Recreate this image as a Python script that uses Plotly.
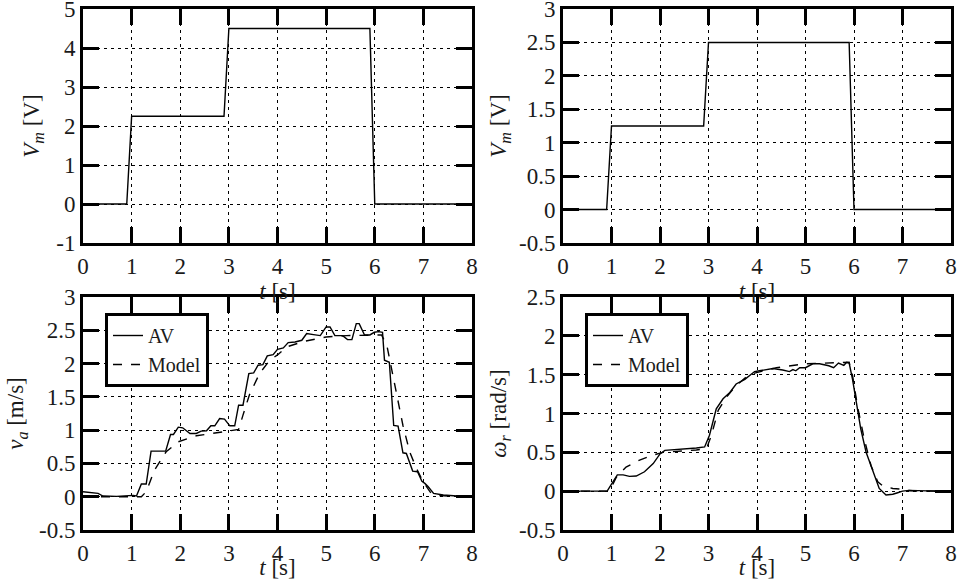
import plotly.graph_objects as go

W, H = 973, 580
FONT = "Liberation Serif"
FS = 23
INK = "#1a1a1a"

# ---------------------------------------------------------------- data
t_ticks = [0, 1, 2, 3, 4, 5, 6, 7, 8]

# motor voltage command, run 1 (translational test)
vm1_t = [0.0, 0.9, 1.0, 2.9, 3.0, 5.9, 6.0, 8.0]
vm1_v = [0.0, 0.0, 2.25, 2.25, 4.5, 4.5, 0.0, 0.0]

# motor voltage command, run 2 (rotational test)
vm2_t = [0.0, 0.9, 1.0, 2.9, 3.0, 5.9, 6.0, 8.0]
vm2_v = [0.0, 0.0, 1.25, 1.25, 2.5, 2.5, 0.0, 0.0]

# measured linear velocity of the vehicle
va_av_t = [0, 0.31, 0.41, 0.69, 1.03, 1.1, 1.2, 1.3, 1.4, 1.7,
           1.8, 1.86, 1.96, 2.05, 2.2, 2.33, 2.43, 2.54, 2.63, 2.71,
           2.81, 2.91, 3.02, 3.12, 3.2, 3.29, 3.41, 3.51, 3.6, 3.7,
           3.79, 3.91, 4.0, 4.12, 4.22, 4.36, 4.5, 4.6, 4.74, 4.88,
           5.0, 5.08, 5.18, 5.34, 5.44, 5.53, 5.62, 5.68, 5.79, 5.9,
           5.99, 6.08, 6.16, 6.2, 6.3, 6.39, 6.48, 6.58, 6.65, 6.78,
           6.88, 6.97, 7.03, 7.1, 7.21, 7.41, 7.69, 8.0]
va_av = [0.075, 0.05, 0.01, 0.005, 0.02, 0.01, 0.19, 0.19, 0.685, 0.685,
         0.935, 0.935, 1.045, 1.035, 0.95, 0.95, 0.985, 0.99, 1.065, 1.065,
         1.175, 1.165, 1.065, 1.065, 1.375, 1.375, 1.85, 1.86, 1.975, 1.985,
         2.115, 2.135, 2.215, 2.235, 2.315, 2.325, 2.35, 2.45, 2.435, 2.42,
         2.55, 2.55, 2.42, 2.42, 2.36, 2.36, 2.6, 2.6, 2.43, 2.43,
         2.47, 2.48, 2.47, 2.05, 2.02, 1.07, 1.06, 0.66, 0.65, 0.385,
         0.375, 0.23, 0.2, 0.15, 0.05, 0.025, 0.01, 0.005]

# simulated linear velocity
va_model_t = [0, 1.2, 1.3, 1.47, 1.71, 1.96, 2.33, 2.74, 3.02, 3.2,
              3.29, 3.42, 3.63, 3.84, 4.0, 4.19, 4.53, 5.0, 5.42, 6.04,
              6.14, 6.25, 6.35, 6.45, 6.58, 6.72, 6.86, 7.0, 7.14, 7.27,
              7.62, 8.0]
va_model = [0, 0, 0.075, 0.4, 0.675, 0.825, 0.915, 0.965, 0.99, 1.01,
            1.225, 1.525, 1.85, 2.05, 2.13, 2.25, 2.33, 2.4, 2.42, 2.43,
            2.43, 2.27, 1.92, 1.52, 1.07, 0.67, 0.42, 0.22, 0.07, 0.02,
            0.005, 0]

# measured yaw rate
wr_av_t = [0, 0.91, 1.03, 1.12, 1.24, 1.37, 1.51, 1.68, 1.86, 2.0,
           2.1, 2.4, 2.75, 2.92, 3.02, 3.16, 3.3, 3.44, 3.57, 3.75,
           3.85, 3.95, 4.05, 4.19, 4.33, 4.53, 4.67, 4.74, 4.8, 4.88,
           5.0, 5.15, 5.29, 5.48, 5.58, 5.68, 5.79, 5.85, 5.9, 5.97,
           6.04, 6.14, 6.25, 6.39, 6.52, 6.66, 6.8, 6.9, 7.0, 7.14,
           7.41, 7.69, 8.0]
wr_av = [0, 0, 0.12, 0.21, 0.21, 0.19, 0.195, 0.25, 0.355, 0.48,
         0.525, 0.535, 0.555, 0.57, 0.72, 1.06, 1.19, 1.27, 1.38, 1.44,
         1.49, 1.54, 1.55, 1.565, 1.58, 1.56, 1.54, 1.565, 1.55, 1.59,
         1.59, 1.64, 1.64, 1.615, 1.59, 1.65, 1.62, 1.66, 1.65, 1.44,
         1.19, 0.8, 0.5, 0.25, 0.035, -0.05, -0.04, -0.02, 0, 0.01,
         0.002, 0, 0]

# simulated yaw rate
wr_model_t = [0, 0.96, 1.1, 1.3, 1.58, 1.86, 2.06, 2.4, 2.75, 2.96,
              3.06, 3.2, 3.37, 3.57, 3.78, 3.95, 4.12, 4.4, 5.0, 5.62,
              5.9, 5.97, 6.07, 6.21, 6.35, 6.49, 6.59, 6.8, 7.0, 7.06,
              7.3, 8.0]
wr_model = [0, 0, 0.18, 0.31, 0.4, 0.465, 0.5, 0.515, 0.53, 0.55,
            0.72, 1.04, 1.21, 1.36, 1.47, 1.52, 1.55, 1.59, 1.64, 1.65,
            1.66, 1.49, 1.1, 0.675, 0.33, 0.12, 0.07, 0.035, 0.025, 0.01,
            0.003, 0]

# y tick values / labels per panel
yt_vm1 = [-1, 0, 1, 2, 3, 4, 5]
yl_vm1 = ["-1", "0", "1", "2", "3", "4", "5"]
yt_vm2 = [-0.5, 0, 0.5, 1, 1.5, 2, 2.5, 3]
yl_vm2 = ["-0.5", "0", "0.5", "1", "1.5", "2", "2.5", "3"]
yt_va = [-0.5, 0, 0.5, 1, 1.5, 2, 2.5, 3]
yl_va = ["-0.5", "0", "0.5", "1", "1.5", "2", "2.5", "3"]
yt_wr = [-0.5, 0, 0.5, 1, 1.5, 2, 2.5]
yl_wr = ["-0.5", "0", "0.5", "1", "1.5", "2", "2.5"]

legend_names = ["AV", "Model"]

# ---------------------------------------------------------------- layout helpers
def px(x):
    return x / W


def py(y):
    return 1 - y / H


cols = [(83, 472), (563, 951)]
rows = [(9, 243), (297, 530)]

base = dict(showline=True, linewidth=3, linecolor="black", automargin=False,
            mirror="ticks", ticks="inside", ticklen=16, tickwidth=3,
            tickcolor="black", showgrid=True, gridcolor="black",
            griddash="3px,4px", zeroline=False, ticklabeloverflow="allow",
            tickfont=dict(family=FONT, size=FS, color=INK))

panels = [
    # (row, col, y range, y ticks, y labels, y title, title standoff)
    (0, 0, [-1, 5], yt_vm1, yl_vm1, "<i>V</i><sub><i>m</i></sub> [V]", 11),
    (0, 1, [-0.5, 3], yt_vm2, yl_vm2, "<i>V</i><sub><i>m</i></sub> [V]", 6),
    (1, 0, [-0.5, 3], yt_va, yl_va, "<i>v</i><sub><i>a</i></sub> [m/s]", 9),
    (1, 1, [-0.5, 2.5], yt_wr, yl_wr, "<i>ω</i><sub><i>r</i></sub> [rad/s]", 6),
]

fig = go.Figure()
axes = {}
for i, (r, c, yr, ytv, ytl, ytitle, ystand) in enumerate(panels, start=1):
    s = "" if i == 1 else str(i)
    x0, x1 = cols[c]
    y0, y1 = rows[r]
    axes["xaxis" + s] = dict(
        base, domain=[px(x0), px(x1)], anchor="y" + s, range=[0, 8],
        tickvals=t_ticks, ticktext=[str(v) for v in t_ticks],
        title=dict(text="<i>t</i> [s]", standoff=0,
                   font=dict(family=FONT, size=FS, color=INK)),
    )
    axes["yaxis" + s] = dict(
        base, domain=[py(y1), py(y0)], anchor="x" + s, range=yr,
        tickvals=ytv, ticktext=ytl,
        title=dict(text=ytitle, standoff=ystand,
                   font=dict(family=FONT, size=FS, color=INK)),
    )

solid = dict(color="black", width=1.4)
dashed = dict(color="black", width=1.4, dash="dash")

series = [
    # x, y, line, legend entry, legend id, axes
    (vm1_t, vm1_v, solid, None, None, "x", "y"),
    (vm2_t, vm2_v, solid, None, None, "x2", "y2"),
    (va_av_t, va_av, solid, legend_names[0], "legend", "x3", "y3"),
    (va_model_t, va_model, dashed, legend_names[1], "legend", "x3", "y3"),
    (wr_av_t, wr_av, solid, legend_names[0], "legend2", "x4", "y4"),
    (wr_model_t, wr_model, dashed, legend_names[1], "legend2", "x4", "y4"),
]
for xs, ys, sty, name, leg, xa, ya in series:
    tr = dict(x=xs, y=ys, mode="lines", line=sty, xaxis=xa, yaxis=ya,
              showlegend=name is not None)
    if name is not None:
        tr.update(name=name, legend=leg)
    fig.add_trace(go.Scatter(**tr))

legend_style = dict(
    bgcolor="white", bordercolor="black", borderwidth=3,
    font=dict(family=FONT, size=20, color=INK),
    xanchor="left", yanchor="top", tracegroupgap=0, itemwidth=30,
)

fig.update_layout(
    template="none", width=W, height=H,
    margin=dict(l=0, r=0, t=0, b=0),
    showlegend=True,
    legend=dict(legend_style, x=px(105), y=py(313)),
    legend2=dict(legend_style, x=px(585), y=py(313)),
    **axes,
)

fig.write_html("out.html")
